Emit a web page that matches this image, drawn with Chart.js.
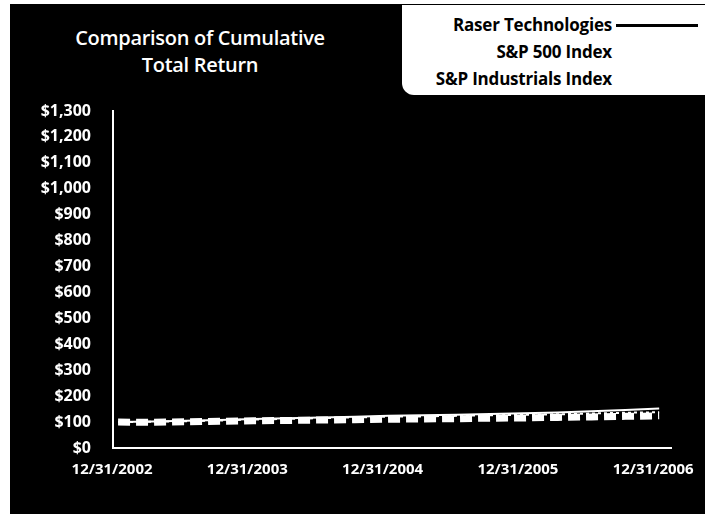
<!DOCTYPE html>
<html>
<head>
<meta charset="utf-8">
<script src="https://cdn.jsdelivr.net/npm/chart.js@4.4.0/dist/chart.umd.min.js"></script>
<style>
  html, body { margin: 0; padding: 0; background: #fff; }
  #wrap { position: relative; width: 705px; height: 514px; overflow: hidden; }
  #bg { position: absolute; left: 10px; top: 4px; right: 0; bottom: 0; background: #000; }
  #chart { position: absolute; left: 0; top: 0; }
  #title {
    position: absolute; left: 50px; width: 300px; top: 24px;
    color: #fff; font: 600 20px 'Open Sans', sans-serif; line-height: 27px;
    text-align: center; letter-spacing: -0.3px;
  }
  #legend {
    position: absolute; left: 402px; top: 5px; width: 303px; height: 90px;
    background: #fff; border-bottom-left-radius: 12px;
  }
  .item {
    position: absolute; right: 93px; color: #000; white-space: nowrap;
    font: bold 17px 'Open Sans', sans-serif; letter-spacing: -0.2px; line-height: 22px;
  }
  .swatch { position: absolute; left: 214px; width: 82px; height: 3px; }
</style>
</head>
<body>
<div id="wrap">
  <div id="bg"></div>
  <div id="title">Comparison of Cumulative<br>Total Return</div>
  <canvas id="chart" width="705" height="514"></canvas>
  <div id="legend"></div>
</div>
<script>
// quarter-end points, 12/31/2002 .. 12/31/2006
const yearLabels = ['12/31/2002', '12/31/2003', '12/31/2004', '12/31/2005', '12/31/2006'];
const seriesNames = ['Raser Technologies', 'S&P 500 Index', 'S&P Industrials Index'];
const raser = [100, 102, 105, 108, 112, 115, 118, 121, 124, 126, 128, 131, 134, 137, 142, 147, 152];
const spIndustrials = [100, 101, 103, 106, 110, 112, 115, 118, 121, 122, 124, 126, 128, 130, 133, 136, 138];
const sp500 = [100, 99, 101, 103, 105, 106, 108, 109, 111, 112, 113, 115, 116, 118, 120, 122, 124];
const yTicks = [0, 100, 200, 300, 400, 500, 600, 700, 800, 900, 1000, 1100, 1200, 1300];

const toPoints = arr => arr.map((v, i) => ({ x: i, y: v }));

// legend box (white panel, top right) - only the black sample shows on white
const legendColors = ['#000', '#fff', '#fff'];
const legendEl = document.getElementById('legend');
seriesNames.forEach((name, i) => {
  const top = 9 + i * 27;
  const t = document.createElement('div');
  t.className = 'item';
  t.style.top = top + 'px';
  t.textContent = name;
  legendEl.appendChild(t);
  const s = document.createElement('div');
  s.className = 'swatch';
  s.style.top = (top + 10) + 'px';
  s.style.background = legendColors[i];
  legendEl.appendChild(s);
});

new Chart(document.getElementById('chart'), {
  type: 'line',
  data: {
    datasets: [
      {
        label: seriesNames[0],
        data: toPoints(raser),
        borderColor: '#fff',
        borderWidth: 2,
        pointRadius: 0,
        tension: 0
      },
      {
        label: seriesNames[2],
        data: toPoints(spIndustrials),
        borderColor: '#fff',
        borderWidth: 2,
        borderDash: [3, 3],
        pointRadius: 0,
        tension: 0
      },
      {
        label: seriesNames[1],
        data: toPoints(sp500),
        borderColor: '#fff',
        borderWidth: 7,
        borderDash: [12, 6],
        borderCapStyle: 'butt',
        pointRadius: 0,
        tension: 0
      }
    ]
  },
  options: {
    responsive: false,
    animation: false,
    layout: { padding: { top: 111, right: 15, bottom: 0, left: 0 } },
    plugins: {
      legend: { display: false },
      tooltip: { enabled: false },
      title: { display: false }
    },
    scales: {
      x: {
        type: 'linear',
        min: -0.15,
        max: 16.35,
        afterBuildTicks: axis => {
          axis.ticks = yearLabels.map((_, i) => ({ value: i * 4 }));
        },
        afterFit: axis => { axis.height = 66; },
        grid: { display: false },
        border: { color: '#fff', width: 2 },
        ticks: {
          color: '#fff',
          font: { family: 'Open Sans', size: 15, weight: 'bold' },
          padding: 5,
          labelOffset: -6,
          maxRotation: 0,
          autoSkip: false,
          callback: v => yearLabels[Math.round(v / 4)]
        }
      },
      y: {
        min: 0,
        max: 1300,
        afterBuildTicks: axis => {
          axis.ticks = yTicks.map(v => ({ value: v }));
        },
        afterFit: axis => { axis.width = 113; },
        grid: { display: false },
        border: { color: '#fff', width: 2 },
        ticks: {
          color: '#fff',
          font: { family: 'Open Sans', size: 16, weight: 'bold' },
          padding: 14,
          callback: v => '$' + v.toLocaleString('en-US')
        }
      }
    }
  }
});
</script>
</body>
</html>
